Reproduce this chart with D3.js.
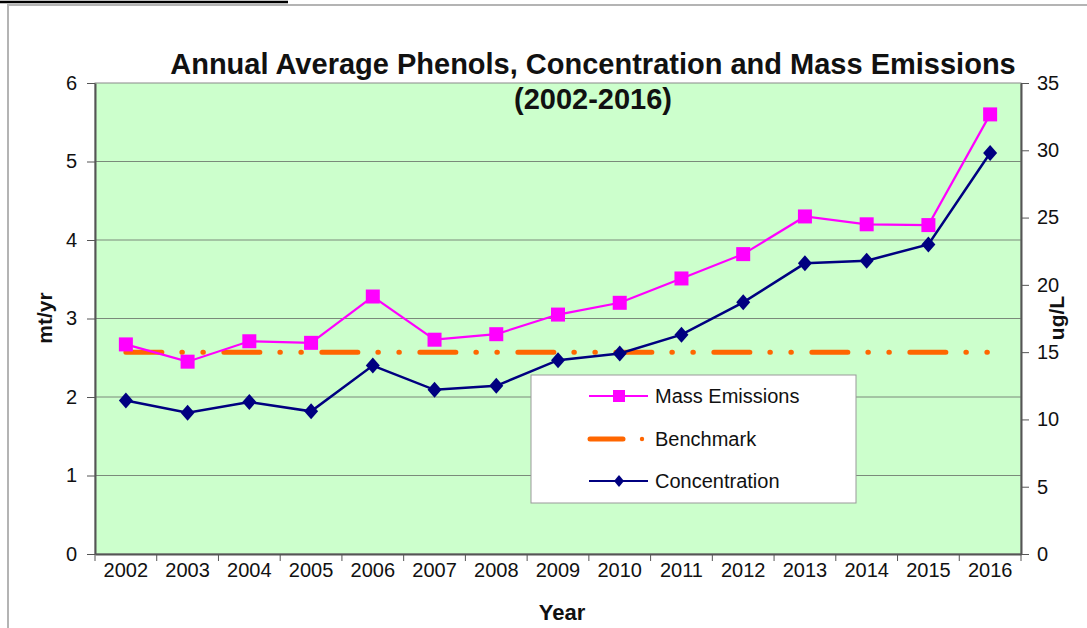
<!DOCTYPE html>
<meta charset="utf-8">
<style>
body { margin: 0; background: #fff; }
svg { display: block; font-family: "Liberation Sans", Arial, sans-serif; }
.grid line { stroke: #7a8a7a; stroke-width: 1px; }
.axis path, .axis line { stroke: #555; }
.axis text { font-size: 20px; fill: #111; }
</style>
<script src="https://d3js.org/d3.v7.min.js"></script>
<body>
<svg id="chart"></svg>
<script>
var years = ["2002","2003","2004","2005","2006","2007","2008","2009","2010","2011","2012","2013","2014","2015","2016"];
var massEmissions = [2.67, 2.45, 2.71, 2.69, 3.28, 2.73, 2.80, 3.05, 3.20, 3.51, 3.82, 4.30, 4.20, 4.19, 5.60];
var concentration = [11.4, 10.5, 11.3, 10.6, 14.0, 12.2, 12.5, 14.4, 14.9, 16.3, 18.7, 21.6, 21.8, 23.0, 29.8];
var benchmark = [15, 15, 15, 15, 15, 15, 15, 15, 15, 15, 15, 15, 15, 15, 15];
var leftTicks = [0, 1, 2, 3, 4, 5, 6];
var rightTicks = [0, 5, 10, 15, 20, 25, 30, 35];

var width = 1087, height = 628;
var plot = {left: 95, top: 83, right: 1021, bottom: 554};

var svg = d3.select("#chart").attr("width", width).attr("height", height);

// frame of the page
svg.append("line").attr("x1", 0).attr("x2", 288).attr("y1", 2).attr("y2", 2)
  .attr("stroke", "#000").attr("stroke-width", 2.5);
svg.append("path").attr("d", "M8,640 V5 H1090")
  .attr("fill", "none").attr("stroke", "#b4b4b4").attr("stroke-width", 2);

var x = d3.scaleBand().domain(years).range([plot.left, plot.right]);
var yL = d3.scaleLinear().domain([0, 6]).range([plot.bottom, plot.top]);
var yR = d3.scaleLinear().domain([0, 35]).range([plot.bottom, plot.top]);
var cx = function(d, i) { return x(years[i]) + x.bandwidth() / 2; };

svg.append("rect")
  .attr("x", plot.left).attr("y", plot.top)
  .attr("width", plot.right - plot.left).attr("height", plot.bottom - plot.top)
  .attr("fill", "#ccffcc").attr("stroke", "#8a8a8a").attr("stroke-width", 1);

svg.append("g").attr("class", "grid")
  .selectAll("line").data(leftTicks.slice(1, -1)).enter().append("line")
  .attr("x1", plot.left).attr("x2", plot.right)
  .attr("y1", function(d) { return yL(d); }).attr("y2", function(d) { return yL(d); });

// left axis
var gl = svg.append("g").attr("class", "axis")
  .attr("transform", "translate(" + plot.left + ",0)")
  .call(d3.axisLeft(yL).tickValues(leftTicks).tickFormat(d3.format("d"))
    .tickSize(8).tickPadding(10).tickSizeOuter(0));
gl.select(".domain").attr("stroke-width", 2);

// right axis
var gr = svg.append("g").attr("class", "axis")
  .attr("transform", "translate(" + plot.right + ",0)")
  .call(d3.axisRight(yR).tickValues(rightTicks).tickSize(8).tickPadding(8).tickSizeOuter(0));
gr.select(".domain").attr("stroke-width", 2);

// bottom axis: ticks at category boundaries
var gb = svg.append("g").attr("class", "axis")
  .attr("transform", "translate(0," + plot.bottom + ")")
  .call(d3.axisBottom(x).tickSize(0).tickPadding(9));
gb.select(".domain").attr("stroke-width", 2);
gb.selectAll(".bound").data(years.concat(["end"])).enter().append("line")
  .attr("class", "bound")
  .attr("x1", function(d, i) { return plot.left + i * x.bandwidth(); })
  .attr("x2", function(d, i) { return plot.left + i * x.bandwidth(); })
  .attr("y1", 0).attr("y2", 7).attr("stroke", "#555");

// titles
var title = svg.append("text").attr("x", 593).attr("text-anchor", "middle")
  .attr("font-weight", "bold").attr("font-size", 29).attr("fill", "#111");
title.append("tspan").attr("x", 593).attr("y", 74).text("Annual Average Phenols, Concentration and Mass Emissions");
title.append("tspan").attr("x", 593).attr("y", 109).text("(2002-2016)");

svg.append("text").attr("transform", "translate(52,318) rotate(-90)")
  .attr("text-anchor", "middle").attr("font-weight", "bold").attr("font-size", 21)
  .attr("fill", "#111").text("mt/yr");
svg.append("text").attr("transform", "translate(1064,318) rotate(-90)")
  .attr("text-anchor", "middle").attr("font-weight", "bold").attr("font-size", 21)
  .attr("fill", "#111").text("ug/L");
svg.append("text").attr("x", 562).attr("y", 620)
  .attr("text-anchor", "middle").attr("font-weight", "bold").attr("font-size", 22)
  .attr("fill", "#111").text("Year");

// benchmark line
var bench = d3.line().x(cx).y(function(d) { return yR(d); });
svg.append("path").datum(benchmark)
  .attr("d", bench).attr("fill", "none").attr("stroke", "#ff6600")
  .attr("stroke-width", 5).attr("stroke-linecap", "round")
  .attr("stroke-dasharray", "36,20,0.5,20.5,0.5,20.5");

// mass emissions
var massLine = d3.line().x(cx).y(function(d) { return yL(d); });
svg.append("path").datum(massEmissions)
  .attr("d", massLine).attr("fill", "none").attr("stroke", "#ff00ff").attr("stroke-width", 2.2);
svg.append("g").selectAll("rect").data(massEmissions).enter().append("rect")
  .attr("x", function(d, i) { return cx(d, i) - 7; })
  .attr("y", function(d) { return yL(d) - 7; })
  .attr("width", 14).attr("height", 14).attr("fill", "#ff00ff");

// concentration
var concLine = d3.line().x(cx).y(function(d) { return yR(d); });
svg.append("path").datum(concentration)
  .attr("d", concLine).attr("fill", "none").attr("stroke", "#000080").attr("stroke-width", 2.5);
var diamond = "M0,-8 L7,0 L0,8 L-7,0 Z";
svg.append("g").selectAll("path").data(concentration).enter().append("path")
  .attr("d", diamond).attr("fill", "#000080")
  .attr("transform", function(d, i) { return "translate(" + cx(d, i) + "," + yR(d) + ")"; });

// legend
var legend = svg.append("g").attr("transform", "translate(531,375)");
legend.append("rect").attr("width", 325).attr("height", 128)
  .attr("fill", "#fff").attr("stroke", "#999").attr("stroke-width", 1);
var items = [
  {name: "Mass Emissions", color: "#ff00ff", kind: "square", y: 21},
  {name: "Benchmark", color: "#ff6600", kind: "bench", y: 64},
  {name: "Concentration", color: "#000080", kind: "diamond", y: 106}
];
items.forEach(function(it) {
  var g = legend.append("g").attr("transform", "translate(0," + it.y + ")");
  if (it.kind == "bench") {
    g.append("line").attr("x1", 59).attr("x2", 92).attr("stroke", it.color)
      .attr("stroke-width", 5).attr("stroke-linecap", "round");
    g.append("circle").attr("cx", 111).attr("r", 2.2).attr("fill", it.color);
  } else {
    g.append("line").attr("x1", 58).attr("x2", 117).attr("stroke", it.color)
      .attr("stroke-width", 2);
    if (it.kind == "square") {
      g.append("rect").attr("x", 82).attr("y", -6).attr("width", 12).attr("height", 12).attr("fill", it.color);
    } else {
      g.append("path").attr("d", "M0,-6 L5,0 L0,6 L-5,0 Z").attr("transform", "translate(88,0)").attr("fill", it.color);
    }
  }
  g.append("text").attr("x", 124).attr("y", 7).attr("font-size", 20).attr("fill", "#111").text(it.name);
});
</script>
</body>
